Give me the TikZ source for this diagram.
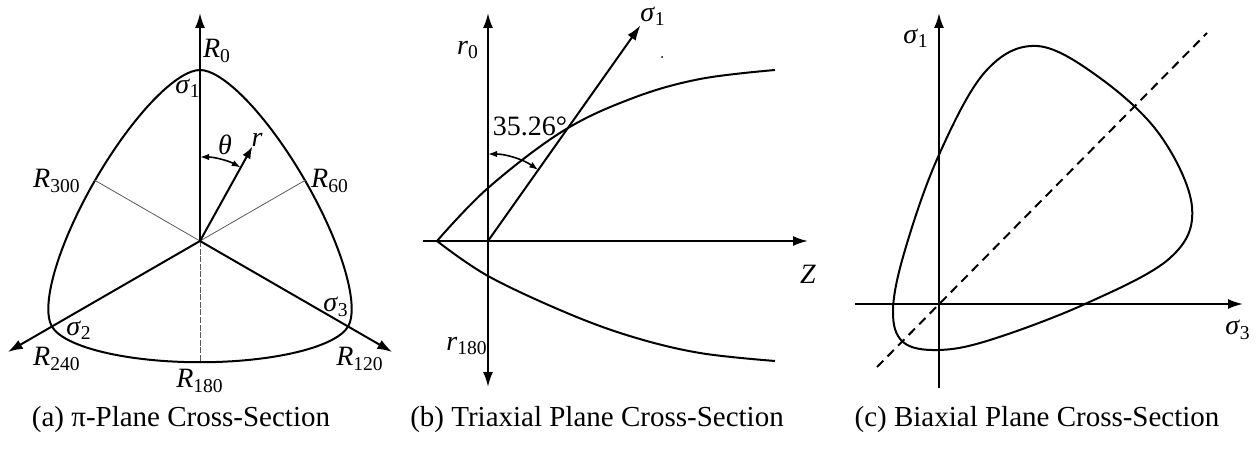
\documentclass[tikz,border=0pt]{standalone}
\usepackage{fontspec}
\setmainfont{Liberation Serif}
\usetikzlibrary{arrows.meta}
\newcommand\lbl[2]{\textit{#1}\textsubscript{#2}}
\pgfmathdeclarefunction{wwr}{1}{%
  \begingroup
  \pgfmathsetmacro\wwpsi{mod(#1,120)}%
  \pgfmathsetmacro\wwpsi{\wwpsi>60 ? 120-\wwpsi : \wwpsi}%
  \pgfmathsetmacro\wwc{cos(60-\wwpsi)}%
  \pgfmathsetmacro\wwrt{0.709}%
  \pgfmathsetmacro\wwD{1-\wwrt*\wwrt}%
  \pgfmathparse{(2*\wwD*\wwc+(2*\wwrt-1)*sqrt(4*\wwD*\wwc*\wwc+5*\wwrt*\wwrt-4*\wwrt))/(4*\wwD*\wwc*\wwc+(1-2*\wwrt)^2)}%
  \pgfmathsmuggle\pgfmathresult
  \endgroup}
\tikzset{
  axisline/.style={line width=1pt},
  axisarrow/.style={line width=1pt,-{Latex[length=7.5pt,width=5pt]}},
  curveline/.style={line width=1pt,line join=round},
  thinline/.style={line width=0.4pt,black!65},
  smallarr/.style={line width=0.8pt,{Latex[length=4.5pt,width=3.2pt]}-{Latex[length=4.5pt,width=3.2pt]}},
  lab/.style={inner sep=0pt,font=\fontsize{14}{16}\selectfont},
  captext/.style={inner sep=0pt,font=\fontsize{14.5}{17}\selectfont},
}
\begin{document}
\begin{tikzpicture}[x=0.5pt,y=-0.5pt]
\useasboundingbox (0,0) rectangle (1257,449);
% ---------------- (a) pi-plane ----------------
\coordinate (aO) at (200,241);
\coordinate (aTop) at (200,13);
\coordinate (aBot) at (200,362);
\path (aO) ++(150:222) coordinate (aL);
\path (aO) ++(30:222) coordinate (aR);
\path (aO) ++(-150:122) coordinate (a300);
\path (aO) ++(-30:122) coordinate (a60);
\path (aO) ++(-61:108) coordinate (aRr);
\path (aO) ++(-90:84) coordinate (aTh);
\draw[curveline] plot[domain=0:360,samples=241] ({200+171*wwr(\x)*sin(\x)},{241-171*wwr(\x)*cos(\x)}) -- cycle;
\draw[thinline] (aO) -- (a300);
\draw[thinline] (aO) -- (a60);
\draw[thinline,dash pattern=on 3pt off 0.8pt] (aO) -- (aBot);
\draw[axisarrow] (aO) -- (aTop);
\draw[axisarrow] (aO) -- (aL);
\draw[axisarrow] (aO) -- (aR);
\draw[axisarrow,-{Latex[length=6pt,width=4.5pt]}] (aO) -- (aRr);
\draw[smallarr] (aTh) arc[start angle=-90,end angle=-61,radius=84];
\node[lab] (aR0) at (217,51) {\lbl{R}{0}};
\node[lab] (aS1) at (188,88) {\lbl{σ}{1}};
\node[lab] (aTheta) at (225,145) {\textit{θ}};
\node[lab] (ar) at (257,140) {\textit{r}};
\node[lab] (aR300) at (57,181) {\lbl{R}{300}};
\node[lab] (aR60) at (330,181) {\lbl{R}{60}};
\node[lab] (aS3) at (336,307) {\lbl{σ}{3}};
\node[lab] (aS2) at (79,330) {\lbl{σ}{2}};
\node[lab] (aR240) at (57,359) {\lbl{R}{240}};
\node[lab] (aR120) at (360,359) {\lbl{R}{120}};
\node[lab] (aR180) at (200,381) {\lbl{R}{180}};
\node[captext] (capA) at (181,420) {(a) π-Plane Cross-Section};
% ---------------- (b) triaxial ----------------
\coordinate (bO) at (488,241);
\coordinate (bTop) at (488,13);
\coordinate (bBot) at (488,387);
\coordinate (bLeft) at (423,241);
\coordinate (bZ) at (808,241);
\path (bO) ++(-54.74:264) coordinate (bS1);
\path (bO) ++(-90:87) coordinate (bArc);
\draw[curveline] plot[smooth,tension=0.6] coordinates {(437,241) (488,188) (563,131) (633,98) (700,79) (775,70)};
\draw[curveline] plot[smooth,tension=0.6] coordinates {(437,241) (488,276) (567,313) (633,337) (700,353) (775,361)};
\draw[axisarrow] (bO) -- (bTop);
\draw[axisarrow] (bO) -- (bBot);
\draw[axisarrow] (bLeft) -- (bZ);
\draw[axisarrow] (bO) -- (bS1);
\draw[smallarr] (bArc) arc[start angle=-90,end angle=-54.74,radius=87];
\fill (662,57) circle[radius=1];
\node[lab] (br0) at (468,50) {\lbl{r}{0}};
\node[lab] (bs1) at (653,16) {\lbl{σ}{1}};
\node[lab] (bang) at (530,126) {35.26°};
\node[lab] (bzl) at (808,274) {\textit{Z}};
\node[lab] (br180) at (467,346) {\lbl{r}{180}};
\node[captext] (capB) at (597,420) {(b) Triaxial Plane Cross-Section};
% ---------------- (c) biaxial ----------------
\coordinate (cO) at (939,304);
\coordinate (cTop) at (939,13);
\coordinate (cBot) at (939,388);
\coordinate (cLeft) at (855,304);
\coordinate (cRight) at (1243,304);
\coordinate (cD1) at (877,367);
\coordinate (cD2) at (1207,33);
\draw[curveline] plot[smooth cycle,tension=0.6] coordinates {(1037,46) (1100,78) (1160,135) (1192,207) (1170,258) (1085,304) (990,340) (938,350) (903,342) (893,310) (905,250) (938,157) (985,72)};
\draw[axisline] (cO) -- (cBot);
\draw[axisarrow] (cO) -- (cTop);
\draw[axisarrow] (cLeft) -- (cRight);
\draw[axisline,dash pattern=on 4.5pt off 3pt] (cD1) -- (cD2);
\node[lab] (cs1) at (916,38) {\lbl{σ}{1}};
\node[lab] (cs3) at (1238,330) {\lbl{σ}{3}};
\node[captext] (capC) at (1037,420) {(c) Biaxial Plane Cross-Section};
\end{tikzpicture}
\end{document}
